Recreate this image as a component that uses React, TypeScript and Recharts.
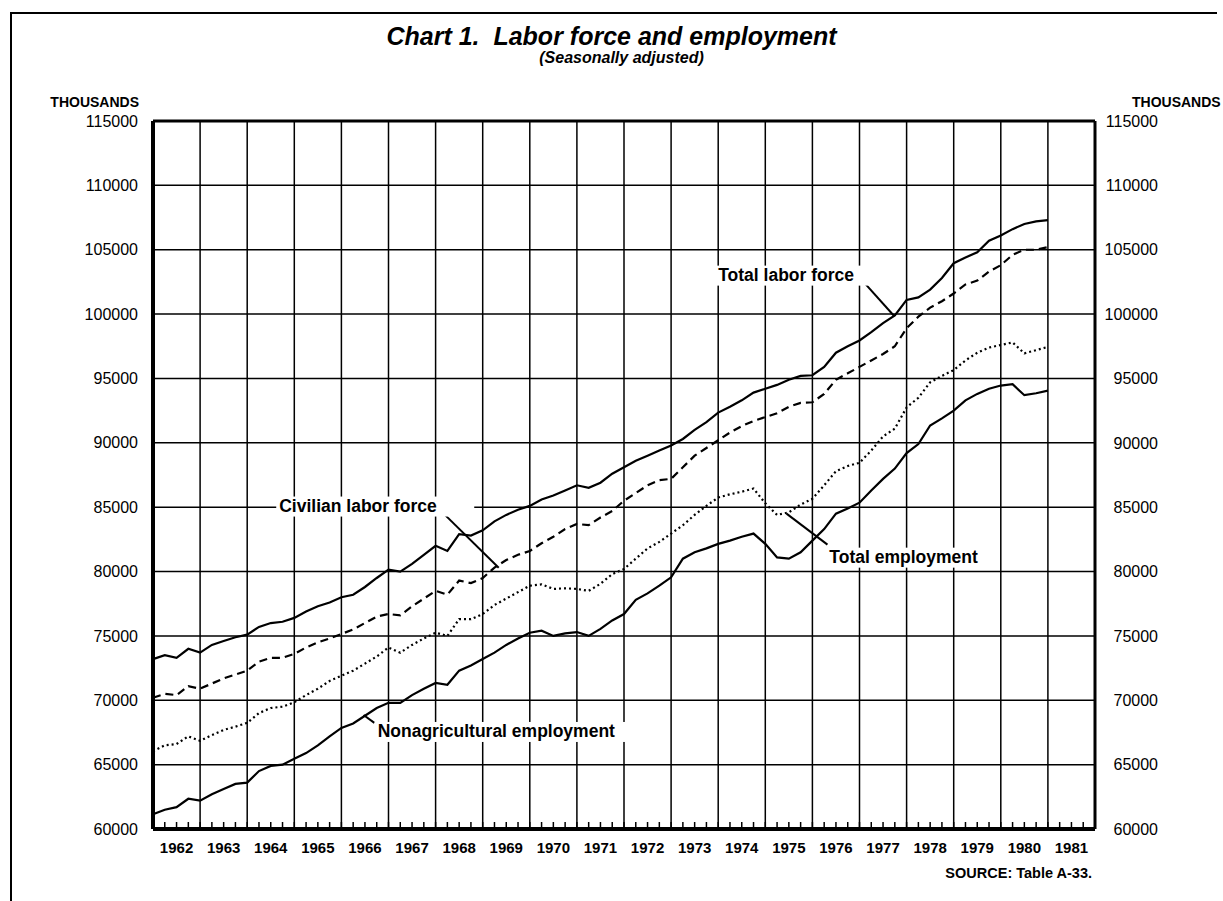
import React from "react";
import {
  LineChart,
  Line,
  XAxis,
  YAxis,
  CartesianGrid,
  ReferenceLine,
  ReferenceDot,
} from "recharts";

const START_YEAR = 1962;
const YEARS = [
  1962, 1963, 1964, 1965, 1966, 1967, 1968, 1969, 1970, 1971, 1972, 1973, 1974, 1975, 1976, 1977,
  1978, 1979, 1980, 1981,
];
const Y_TICKS = [
  60000, 65000, 70000, 75000, 80000, 85000, 90000, 95000, 100000, 105000, 110000, 115000,
];

// quarterly readings, thousands
const TOTAL_LABOR_FORCE = [
  73200, 73500, 73300, 74000, 73700, 74300, 74600, 74900, 75100, 75700, 76000, 76100, 76400, 76900,
  77300, 77600, 78000, 78200, 78800, 79500, 80150, 80000, 80600, 81300, 82000, 81600, 82900, 82800,
  83200, 83900, 84400, 84800, 85100, 85600, 85900, 86300, 86700, 86500, 86900, 87600, 88100, 88600,
  89000, 89400, 89800, 90300, 91000, 91600, 92350, 92800, 93300, 93900, 94200, 94500, 94900, 95200,
  95250, 95900, 97000, 97500, 97950, 98600, 99300, 99900, 101100, 101300, 101900, 102800, 103950,
  104400, 104800, 105700, 106100, 106600, 107000, 107200, 107300,
];
const CIVILIAN_LABOR_FORCE = [
  70200, 70500, 70400, 71100, 70900, 71300, 71700, 72000, 72300, 73000, 73300, 73300, 73600, 74100,
  74500, 74800, 75150, 75500, 76000, 76500, 76700, 76600, 77300, 77900, 78500, 78200, 79300, 79100,
  79500, 80300, 80900, 81300, 81600, 82200, 82700, 83300, 83700, 83600, 84200, 84700, 85500, 86100,
  86700, 87100, 87200, 88100, 89000, 89600, 90200, 90800, 91300, 91700, 92000, 92300, 92800, 93100,
  93150, 93800, 94900, 95400, 95900, 96400, 96900, 97500, 98900, 99800, 100500, 101000, 101600,
  102300, 102600, 103300, 103800, 104600, 105000, 105000, 105200,
];
const TOTAL_EMPLOYMENT = [
  66050, 66500, 66600, 67200, 66850, 67300, 67700, 67950, 68250, 69000, 69400, 69500, 69850, 70400,
  70900, 71500, 71900, 72300, 72850, 73400, 74100, 73700, 74300, 74800, 75250, 75000, 76300, 76300,
  76700, 77400, 77900, 78400, 78900, 79000, 78650, 78700, 78650, 78500, 79050, 79800, 80200, 81000,
  81800, 82300, 82950, 83600, 84400, 85100, 85750, 86000, 86200, 86450, 85300, 84400, 84600, 85200,
  85650, 86700, 87800, 88200, 88450, 89400, 90500, 91100, 92750, 93500, 94700, 95200, 95650, 96400,
  97000, 97400, 97600, 97800, 96950, 97200, 97450,
];
const NONAG_EMPLOYMENT = [
  61150, 61500, 61700, 62350, 62200, 62700, 63100, 63500, 63600, 64500, 64900, 65000, 65450, 65900,
  66500, 67200, 67850, 68200, 68800, 69400, 69800, 69800, 70400, 70900, 71350, 71200, 72300, 72700,
  73200, 73700, 74300, 74800, 75250, 75400, 75000, 75200, 75300, 75000, 75550, 76200, 76700, 77800,
  78300, 78900, 79550, 81000, 81500, 81800, 82150, 82400, 82700, 82950, 82150, 81100, 81000, 81500,
  82400, 83300, 84500, 84900, 85350, 86300, 87200, 88000, 89200, 89900, 91350, 91900, 92500, 93300,
  93800, 94200, 94450, 94550, 93700, 93850, 94050,
];

const LABELS = [
  { text: "Total labor force", year: 1974.0, value: 102600 },
  { text: "Civilian labor force", year: 1964.68, value: 84660 },
  { text: "Nonagricultural employment", year: 1966.77, value: 67150 },
  { text: "Total employment", year: 1976.36, value: 80690 },
];
const LEADERS = [
  [{ x: 1977.09, y: 102480 }, { x: 1977.74, y: 99830 }],
  [{ x: 1968.15, y: 84580 }, { x: 1969.34, y: 80300 }],
  [{ x: 1966.47, y: 68860 }, { x: 1966.7, y: 68240 }],
  [{ x: 1975.45, y: 84500 }, { x: 1976.32, y: 82090 }],
];

const data = TOTAL_LABOR_FORCE.map((v, i) => ({
  year: START_YEAR + i / 4,
  tlf: v,
  clf: CIVILIAN_LABOR_FORCE[i],
  te: TOTAL_EMPLOYMENT[i],
  na: NONAG_EMPLOYMENT[i],
}));

const FONT = "'Liberation Sans', Arial, Helvetica, sans-serif";
const GRID_TICKS = [...YEARS, 1982];
const LABEL_TICKS = YEARS.map((y) => y + 0.5);
const QUARTER_TICKS = data.map((d) => d.year).concat([1981.25, 1981.5, 1981.75]);

function AnnoText({ viewBox, text }: any) {
  const { x, y } = viewBox;
  const w = text.length * 9.6 + 6;
  return (
    <g>
      <rect x={x - 3} y={y - 15} width={w} height={20} fill="#fff" />
      <text x={x} y={y} fontFamily={FONT} fontWeight={700} fontSize={17.5} fill="#000">
        {text}
      </text>
    </g>
  );
}

function RightTick({ x, y, payload }: any) {
  return (
    <text x={x + 63} y={y} dy="0.36em" textAnchor="end" fontFamily={FONT} fontSize={16} fill="#000">
      {payload.value}
    </text>
  );
}

const emptyTick = () => <g />;

export default function App() {
  return (
    <div style={{ position: "absolute", left: 0, top: 0, width: 1223, height: 901, background: "#fff" }}>
      <div
        style={{
          position: "absolute",
          left: 10,
          top: 12,
          width: 1205,
          height: 900,
          borderTop: "2px solid #000",
          borderLeft: "2px solid #000",
        }}
      />
      <div
        style={{
          position: "absolute",
          left: 0,
          width: 1223,
          top: 22,
          textAlign: "center",
          fontFamily: FONT,
          fontStyle: "italic",
          fontWeight: 700,
          fontSize: 25,
          whiteSpace: "pre",
        }}
      >
        {"Chart 1.  Labor force and employment"}
      </div>
      <div
        style={{
          position: "absolute",
          left: 10,
          width: 1223,
          top: 49,
          textAlign: "center",
          fontFamily: FONT,
          fontStyle: "italic",
          fontWeight: 700,
          fontSize: 16,
        }}
      >
        (Seasonally adjusted)
      </div>
      <div style={{ position: "absolute", right: 1223 - 139, top: 94, fontFamily: FONT, fontWeight: 700, fontSize: 14 }}>
        THOUSANDS
      </div>
      <div style={{ position: "absolute", left: 1132, top: 94, fontFamily: FONT, fontWeight: 700, fontSize: 14 }}>
        THOUSANDS
      </div>
      <div style={{ position: "absolute", right: 1223 - 1092, top: 865, fontFamily: FONT, fontWeight: 700, fontSize: 14.5 }}>
        SOURCE: Table A-33.
      </div>

      <div style={{ position: "absolute", left: 0, top: 0 }}>
        <LineChart width={1223} height={901} data={data} margin={{ top: 121, right: 63, bottom: 42, left: 83 }}>
          <CartesianGrid yAxisId="left" vertical={false} stroke="#000" strokeWidth={1.5} />
          <XAxis
            xAxisId="q"
            dataKey="year"
            type="number"
            domain={[1962, 1982]}
            ticks={QUARTER_TICKS}
            interval={0}
            mirror
            tick={emptyTick}
            tickSize={7}
            axisLine={false}
            tickLine={{ stroke: "#000", strokeWidth: 1.5 }}
            height={1}
          />
          <XAxis
            xAxisId="grid"
            dataKey="year"
            type="number"
            domain={[1962, 1982]}
            ticks={GRID_TICKS}
            interval={0}
            height={0}
            hide
          />
          <XAxis
            xAxisId="lab"
            dataKey="year"
            type="number"
            domain={[1962, 1982]}
            ticks={LABEL_TICKS}
            tickFormatter={(v: number) => String(YEARS[Math.floor(v - START_YEAR)])}
            tick={{ fontFamily: FONT, fontSize: 15, fontWeight: 700, fill: "#000" }}
            tickLine={false}
            tickSize={0}
            tickMargin={13}
            axisLine={{ stroke: "#000", strokeWidth: 4 }}
            height={30}
            interval={0}
          />
          <YAxis
            yAxisId="left"
            type="number"
            domain={[60000, 115000]}
            ticks={Y_TICKS}
            interval={0}
            width={70}
            tickLine={false}
            tickSize={0}
            tickMargin={15}
            axisLine={{ stroke: "#000", strokeWidth: 4 }}
            tick={{ fontFamily: FONT, fontSize: 16, fill: "#000" }}
          />
          <YAxis
            yAxisId="right"
            orientation="right"
            type="number"
            domain={[60000, 115000]}
            ticks={Y_TICKS}
            interval={0}
            width={65}
            tickLine={false}
            tickSize={0}
            tickMargin={0}
            axisLine={{ stroke: "#000", strokeWidth: 3 }}
            tick={(p: any) => <RightTick {...p} />}
          />
          {GRID_TICKS.map((g) => (
            <ReferenceLine key={"g" + g} xAxisId="grid" yAxisId="left" x={g} stroke="#000" strokeWidth={1.5} />
          ))}
          <ReferenceLine xAxisId="grid" yAxisId="left" y={115000} stroke="#000" strokeWidth={3} />

          <Line xAxisId="grid" yAxisId="left" dataKey="tlf" type="linear" stroke="#000" strokeWidth={2.2} dot={false} isAnimationActive={false} />
          <Line xAxisId="grid" yAxisId="left" dataKey="clf" type="linear" stroke="#000" strokeWidth={2.2} strokeDasharray="8 5" dot={false} isAnimationActive={false} />
          <Line xAxisId="grid" yAxisId="left" dataKey="te" type="linear" stroke="#000" strokeWidth={2.2} strokeDasharray="2 3" dot={false} isAnimationActive={false} />
          <Line xAxisId="grid" yAxisId="left" dataKey="na" type="linear" stroke="#000" strokeWidth={2.2} dot={false} isAnimationActive={false} />
          {/* keeps the right axis bound to a series so its ticks are built */}
          <Line xAxisId="grid" yAxisId="right" dataKey="na" stroke="none" dot={false} activeDot={false} legendType="none" isAnimationActive={false} />

          {LEADERS.map((seg, i) => (
            <ReferenceLine key={"l" + i} xAxisId="grid" yAxisId="left" segment={seg} stroke="#000" strokeWidth={2} />
          ))}
          {LABELS.map((a) => (
            <ReferenceDot
              key={a.text}
              xAxisId="grid"
              yAxisId="left"
              x={a.year}
              y={a.value}
              r={0}
              fill="none"
              stroke="none"
              label={{ content: (p: any) => <AnnoText viewBox={p.viewBox} text={a.text} /> }}
            />
          ))}
        </LineChart>
      </div>
    </div>
  );
}
